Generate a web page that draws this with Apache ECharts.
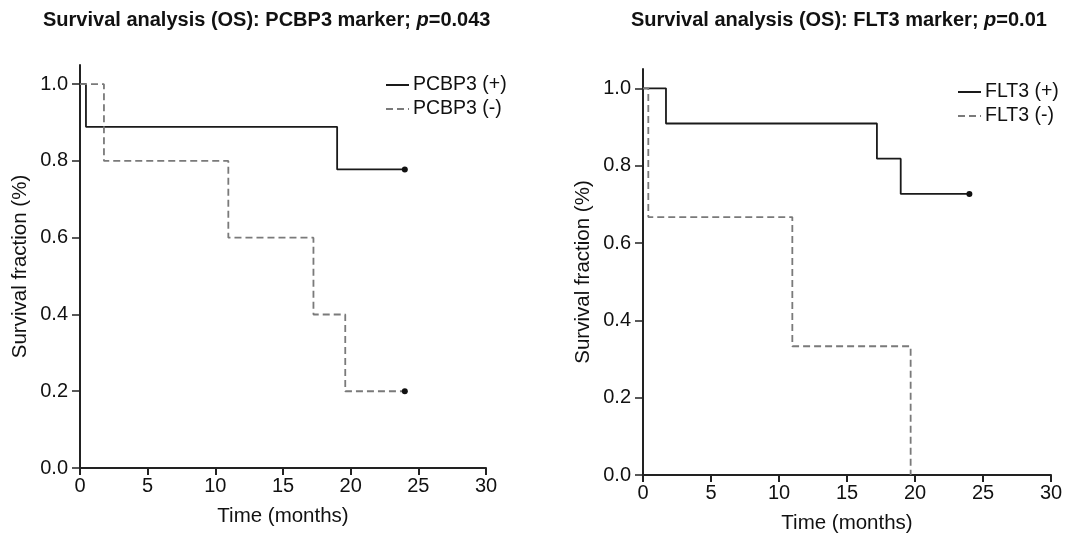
<!DOCTYPE html>
<html>
<head>
<meta charset="utf-8">
<script src="https://cdn.jsdelivr.net/npm/echarts@6/dist/echarts.min.js"></script>
<style>
  html, body { margin: 0; padding: 0; background: #fff; }
  #chart { width: 1067px; height: 535px; }
</style>
</head>
<body>
<div id="chart"></div>
<script>
// Kaplan-Meier curves (time in months, survival fraction)
const pcbp3PosTime = [0, 0.44, 19, 24];
const pcbp3PosSurv = [1, 0.889, 0.778, 0.778];
const pcbp3NegTime = [0, 1.77, 10.96, 17.25, 19.6, 24];
const pcbp3NegSurv = [1, 0.8, 0.6, 0.4, 0.2, 0.2];

const flt3PosTime = [0, 1.69, 17.2, 18.95, 24];
const flt3PosSurv = [1, 0.909, 0.818, 0.727, 0.727];
const flt3NegTime = [0, 0.39, 10.98, 19.68];
const flt3NegSurv = [1, 0.667, 0.333, 0];

const yTicks = [0, 0.2, 0.4, 0.6, 0.8, 1.0];

const FONT = "Liberation Sans, Arial, sans-serif";

// build step data; censored curves get a dot on the last point
const kmData = (times, surv, censored) =>
  times.map((t, i) => {
    const item = { value: [t, surv[i]] };
    if (censored && i === times.length - 1) {
      item.symbol = "circle";
      item.symbolSize = 6;
      item.itemStyle = { color: "#111", borderWidth: 0 };
    }
    return item;
  });

const xAxisFor = (gridIndex, gap) => ({
  type: "value",
  gridIndex,
  min: 0,
  max: 30,
  interval: 5,
  name: "Time (months)",
  nameLocation: "middle",
  nameGap: gap,
  nameTextStyle: { fontSize: 20.5, color: "#111", fontFamily: FONT },
  axisLine: { show: true, lineStyle: { color: "#222", width: 2 } },
  axisTick: { show: true, length: 7, lineStyle: { color: "#222", width: 2 } },
  axisLabel: { fontSize: 20, color: "#111", fontFamily: FONT, margin: 8 },
  splitLine: { show: false },
});

const yAxisFor = (gridIndex, gap) => ({
  type: "value",
  gridIndex,
  min: 0,
  max: 1.05,
  name: "Survival fraction (%)",
  nameLocation: "middle",
  nameGap: gap,
  nameTextStyle: { fontSize: 20.5, color: "#111", fontFamily: FONT },
  axisLine: { show: true, onZero: false, lineStyle: { color: "#222", width: 2 } },
  axisTick: { show: true, length: 8, customValues: yTicks, lineStyle: { color: "#222", width: 1.5 } },
  axisLabel: {
    fontSize: 20,
    color: "#111",
    fontFamily: FONT,
    margin: 12,
    customValues: yTicks,
    formatter: (v) => v.toFixed(1),
  },
  splitLine: { show: false },
});

const solid = { color: "#1a1a1a", width: 1.8, type: "solid" };
const dashed = { color: "#7a7a7a", width: 1.8, type: [7, 4] };

const lineSeries = (name, idx, data, style) => ({
  name,
  type: "line",
  xAxisIndex: idx,
  yAxisIndex: idx,
  step: "end",
  symbol: "none",
  showSymbol: true,
  data,
  lineStyle: style,
  itemStyle: { color: style.color },
  animation: false,
});

const chart = echarts.init(document.getElementById("chart"));

const titleText = { fontSize: 20, fontWeight: "bold", color: "#111", fontFamily: FONT };

const legendBase = {
  orient: "vertical",
  padding: 0,
  itemWidth: 23,
  itemHeight: 14,
  itemGap: 4,
  icon: "inherit",
  itemStyle: { opacity: 0 },
  textStyle: { fontSize: 19.5, color: "#111", fontFamily: FONT, padding: [0, 0, 0, -1] },
};

chart.setOption({
  backgroundColor: "#fff",
  title: [
    {
      text: "Survival analysis (OS): PCBP3 marker; {i|p}=0.043",
      left: 38,
      top: 5,
      textStyle: { ...titleText, rich: { i: { ...titleText, fontStyle: "italic" } } },
    },
    {
      text: "Survival analysis (OS): FLT3 marker; {i|p}=0.01",
      left: 626,
      top: 5,
      textStyle: { ...titleText, rich: { i: { ...titleText, fontStyle: "italic" } } },
    },
  ],
  legend: [
    { ...legendBase, data: ["PCBP3 (+)", "PCBP3 (-)"], left: 385, top: 75 },
    { ...legendBase, data: ["FLT3 (+)", "FLT3 (-)"], left: 957, top: 82 },
  ],
  grid: [
    { left: 80, top: 65, width: 406, bottom: 67, outerBoundsMode: "none", containLabel: false },
    { left: 643, top: 69, width: 408, bottom: 60, outerBoundsMode: "none", containLabel: false },
  ],
  xAxis: [xAxisFor(0, 38), xAxisFor(1, 38)],
  yAxis: [yAxisFor(0, 49), yAxisFor(1, 49)],
  series: [
    lineSeries("PCBP3 (+)", 0, kmData(pcbp3PosTime, pcbp3PosSurv, true), solid),
    lineSeries("PCBP3 (-)", 0, kmData(pcbp3NegTime, pcbp3NegSurv, true), dashed),
    lineSeries("FLT3 (+)", 1, kmData(flt3PosTime, flt3PosSurv, true), solid),
    lineSeries("FLT3 (-)", 1, kmData(flt3NegTime, flt3NegSurv, false), dashed),
  ],
});
</script>
</body>
</html>
